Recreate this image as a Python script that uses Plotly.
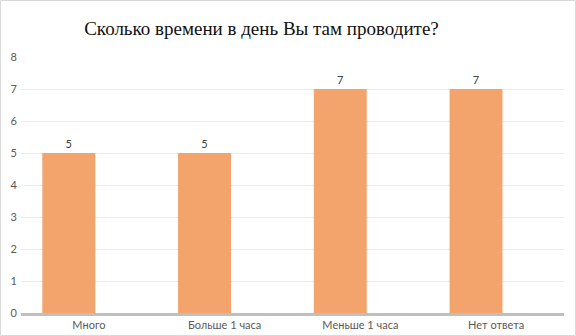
import plotly.graph_objects as go

categories = ["Много", "Больше 1 часа", "Меньше 1 часа", "Нет ответа"]
values = [5, 5, 7, 7]
y_ticks = [0, 1, 2, 3, 4, 5, 6, 7, 8]

W, H = 576, 336
ML, MR, MT, MB = 21, 12, 57, 23
plot_w = W - ML - MR
plot_h = H - MT - MB

fig = go.Figure()
fig.add_trace(go.Bar(
    x=categories,
    y=values,
    width=0.39,
    offset=-0.343,
    marker=dict(color="#F3A46D", line=dict(width=0)),
    text=[str(v) for v in values],
    textposition="outside",
    cliponaxis=False,
    textfont=dict(family="Lato", size=11, color="#404040"),
    hoverinfo="skip",
))

# thin light frame around the whole chart
def px_x(p):
    return (p - ML) / plot_w

def px_y(p):
    return (H - MB - p) / plot_h

fig.add_shape(type="rect", xref="paper", yref="paper",
              x0=px_x(0.5), x1=px_x(W - 0.5), y0=px_y(H - 0.5), y1=px_y(0.5),
              line=dict(color="#D9D9D9", width=1), layer="below")

fig.update_layout(
    width=W, height=H,
    margin=dict(l=ML, r=MR, t=MT, b=MB, pad=0, autoexpand=False),
    paper_bgcolor="white",
    plot_bgcolor="white",
    showlegend=False,
    title=dict(
        text="Сколько времени в день Вы там проводите?",
        font=dict(family="Liberation Serif", size=19, color="#111111"),
        x=px_x(261.5), xref="paper", xanchor="center",
        y=1 - 28 / H, yanchor="middle",
    ),
    xaxis=dict(
        showgrid=False,
        showline=True, linecolor="#BFBFBF", linewidth=3,
        ticks="",
        automargin=False,
        tickfont=dict(family="Lato", size=11, color="#595959"),
        fixedrange=True,
    ),
    yaxis=dict(
        range=[0, 8],
        tickvals=y_ticks,
        showgrid=True, gridcolor="#EBEBEB", gridwidth=1,
        zeroline=False,
        showline=False,
        ticks="",
        automargin=False,
        ticklabelstandoff=3,
        tickfont=dict(family="Lato", size=11, color="#595959"),
        fixedrange=True,
    ),
    bargap=0.2,
)

fig.write_html("out.html", config={"displayModeBar": False})
